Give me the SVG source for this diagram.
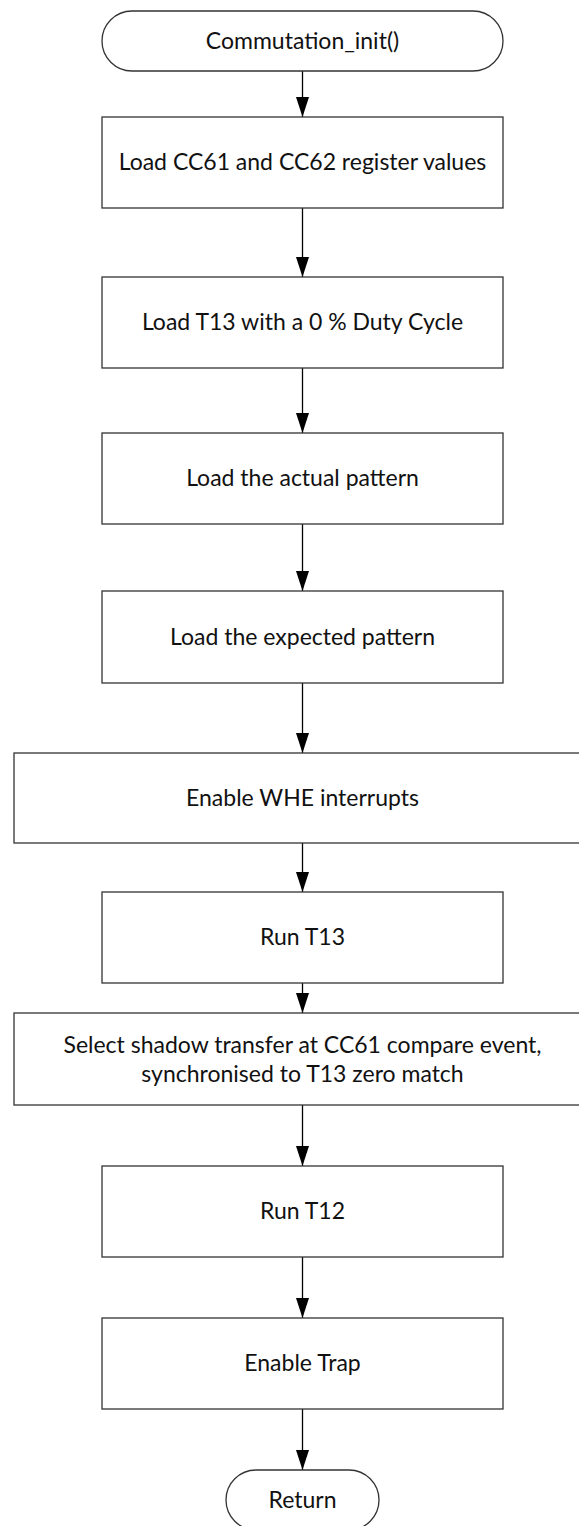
<svg xmlns="http://www.w3.org/2000/svg" width="579" height="1526" viewBox="0 0 579 1526">
  <defs>
    <marker id="arrow" markerUnits="userSpaceOnUse" markerWidth="20" markerHeight="13" refX="20" refY="6.5" orient="auto">
      <path d="M0,0 L20,6.5 L0,13 Z" fill="#000"/>
    </marker>
    <style>
      .shape { fill: #fff; stroke: #333; stroke-width: 1.3; }
      .label { font-family: Lato, "Open Sans", "Liberation Sans", sans-serif; font-size: 23px; fill: #111; text-anchor: middle; }
      .flow { fill: none; stroke: #000; stroke-width: 1.3; marker-end: url(#arrow); }
    </style>
  </defs>
  <rect width="579" height="1526" fill="#fff"/>

  <!-- connectors -->
  <g id="connectors">
    <line class="flow" x1="302.5" y1="71" x2="302.5" y2="117"/>
    <line class="flow" x1="302.5" y1="208" x2="302.5" y2="277"/>
    <line class="flow" x1="302.5" y1="368" x2="302.5" y2="433"/>
    <line class="flow" x1="302.5" y1="524" x2="302.5" y2="591"/>
    <line class="flow" x1="302.5" y1="683" x2="302.5" y2="753"/>
    <line class="flow" x1="302.5" y1="843" x2="302.5" y2="892"/>
    <line class="flow" x1="302.5" y1="983" x2="302.5" y2="1013"/>
    <line class="flow" x1="302.5" y1="1105" x2="302.5" y2="1166"/>
    <line class="flow" x1="302.5" y1="1257" x2="302.5" y2="1318"/>
    <line class="flow" x1="302.5" y1="1409" x2="302.5" y2="1470"/>
  </g>

  <!-- nodes -->
  <g id="start">
    <rect class="shape" x="102" y="11" width="401" height="60" rx="30" ry="30"/>
    <text class="label" x="302.5" y="49">Commutation_init()</text>
  </g>
  <g id="load-cc6x">
    <rect class="shape" x="102" y="117" width="401" height="91"/>
    <text class="label" x="302.5" y="170">Load CC61 and CC62 register values</text>
  </g>
  <g id="load-t13">
    <rect class="shape" x="102" y="277" width="401" height="91"/>
    <text class="label" x="302.5" y="330">Load T13 with a 0 % Duty Cycle</text>
  </g>
  <g id="load-actual">
    <rect class="shape" x="102" y="433" width="401" height="91"/>
    <text class="label" x="302.5" y="486">Load the actual pattern</text>
  </g>
  <g id="load-expected">
    <rect class="shape" x="102" y="591" width="401" height="92"/>
    <text class="label" x="302.5" y="645">Load the expected pattern</text>
  </g>
  <g id="enable-whe">
    <rect class="shape" x="14" y="753" width="577" height="90"/>
    <text class="label" x="302.5" y="806">Enable WHE interrupts</text>
  </g>
  <g id="run-t13">
    <rect class="shape" x="102" y="892" width="401" height="91"/>
    <text class="label" x="302.5" y="945">Run T13</text>
  </g>
  <g id="shadow-transfer">
    <rect class="shape" x="14" y="1013" width="577" height="92"/>
    <text class="label" x="302.5" y="1053">Select shadow transfer at CC61 compare event,</text>
    <text class="label" x="302.5" y="1082">synchronised to T13 zero match</text>
  </g>
  <g id="run-t12">
    <rect class="shape" x="102" y="1166" width="401" height="91"/>
    <text class="label" x="302.5" y="1219">Run T12</text>
  </g>
  <g id="enable-trap">
    <rect class="shape" x="102" y="1318" width="401" height="91"/>
    <text class="label" x="302.5" y="1371">Enable Trap</text>
  </g>
  <g id="return">
    <rect class="shape" x="226" y="1470" width="153" height="60" rx="30" ry="30"/>
    <text class="label" x="302.5" y="1508">Return</text>
  </g>
</svg>
